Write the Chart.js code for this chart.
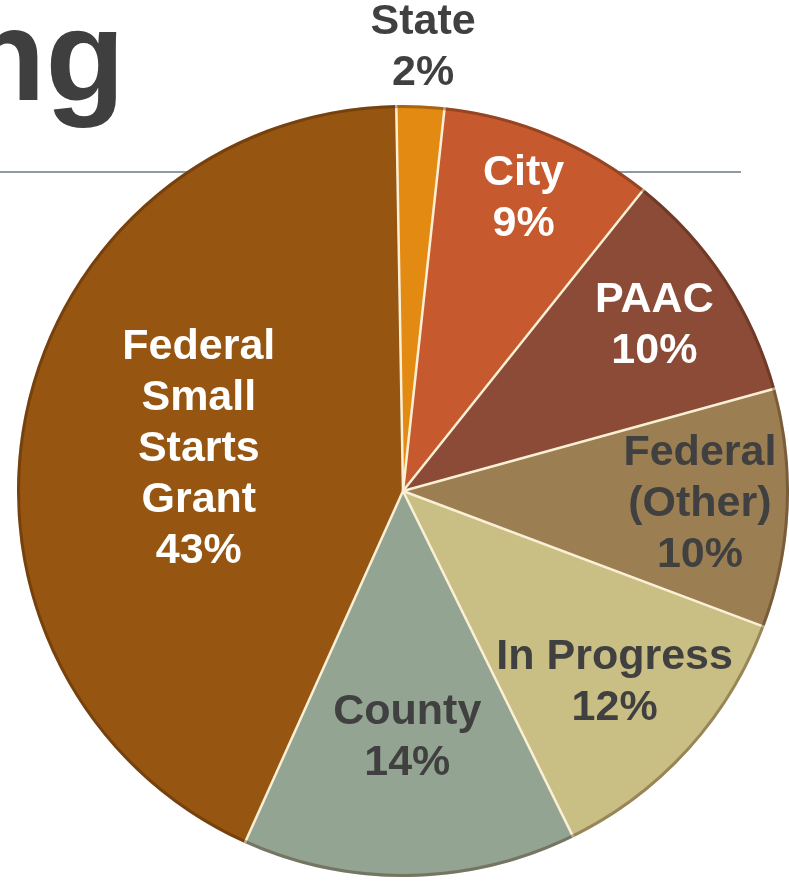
<!DOCTYPE html>
<html>
<head>
<meta charset="utf-8">
<script src="https://cdn.jsdelivr.net/npm/chart.js@4.4.1/dist/chart.umd.min.js"></script>
<style>
  html, body { margin: 0; padding: 0; background: #fff; }
  #wrap { position: relative; width: 789px; height: 886px; overflow: hidden; }
  #title {
    position: absolute; left: -34px; top: -10px;
    font: bold 130px "Liberation Sans", Arial, sans-serif;
    line-height: 1; color: #3f3f3f; white-space: nowrap;
  }
  #rule { position: absolute; left: 0; top: 171px; width: 741px; height: 2px; background: #8d9ba7; }
  #chart { position: absolute; left: 0; top: 0; }
</style>
</head>
<body>
<div id="wrap">
  <div id="title">ng</div>
  <div id="rule"></div>
  <canvas id="chart" width="789" height="886"></canvas>
</div>
<script>
// funding sources, clockwise from the top
const categories = ['State', 'City', 'PAAC', 'Federal (Other)', 'In Progress', 'County', 'Federal Small Starts Grant'];
const shares = [2, 9, 10, 10, 12, 14, 43];

// how each label is split over lines
const labelLines = [['State'], ['City'], ['PAAC'], ['Federal', '(Other)'], ['In Progress'], ['County'], ['Federal', 'Small', 'Starts', 'Grant']];

const sliceColors = ['#e38a12', '#c65a2e', '#8c4b36', '#9b7e52', '#c9be83', '#93a592', '#965510'];
const labelColors = ['#404040', '#ffffff', '#ffffff', '#404040', '#404040', '#404040', '#ffffff'];
// label distance from centre, as a share of the radius
const labelRadius = [1.15, 0.82, 0.78, 0.77, 0.74, 0.64, 0.54];

const sliceLabels = {
    id: 'sliceLabels',
    afterDatasetsDraw(chart) {
        const ctx = chart.ctx;
        const arcs = chart.getDatasetMeta(0).data;

        // cream separator lines between slices
        ctx.save();
        ctx.strokeStyle = '#fbf0d6';
        ctx.lineWidth = 2.5;
        arcs.forEach((arc) => {
            const p = arc.getProps(['x', 'y', 'startAngle', 'outerRadius']);
            ctx.beginPath();
            ctx.moveTo(p.x, p.y);
            ctx.lineTo(p.x + Math.cos(p.startAngle) * p.outerRadius, p.y + Math.sin(p.startAngle) * p.outerRadius);
            ctx.stroke();
        });

        // soft dark rim
        const c = arcs[0].getProps(['x', 'y', 'outerRadius']);
        ctx.strokeStyle = 'rgba(60, 30, 10, 0.35)';
        ctx.lineWidth = 3;
        ctx.beginPath();
        ctx.arc(c.x, c.y, c.outerRadius - 1.5, 0, Math.PI * 2);
        ctx.stroke();

        ctx.font = 'bold 43px "Liberation Sans", Arial, sans-serif';
        ctx.textAlign = 'center';
        ctx.textBaseline = 'middle';
        const lineH = 51;
        arcs.forEach((arc, i) => {
            const p = arc.getProps(['x', 'y', 'startAngle', 'endAngle', 'outerRadius']);
            const mid = (p.startAngle + p.endAngle) / 2;
            const cx = p.x + Math.cos(mid) * p.outerRadius * labelRadius[i];
            const cy = p.y + Math.sin(mid) * p.outerRadius * labelRadius[i];
            const lines = labelLines[i].concat([shares[i] + '%']);
            const top = cy - (lines.length - 1) * lineH / 2;
            ctx.fillStyle = labelColors[i];
            lines.forEach((t, k) => ctx.fillText(t, cx, top + k * lineH));
        });
        ctx.restore();
    }
};

new Chart(document.getElementById('chart'), {
    type: 'pie',
    data: {
        labels: categories,
        datasets: [{
            data: shares,
            backgroundColor: sliceColors,
            borderWidth: 0
        }]
    },
    options: {
        responsive: false,
        animation: false,
        rotation: -1,
        layout: { padding: { left: 17, right: 0, top: 105, bottom: 9 } },
        plugins: {
            legend: { display: false },
            tooltip: { enabled: false }
        }
    },
    plugins: [sliceLabels]
});
</script>
</body>
</html>
